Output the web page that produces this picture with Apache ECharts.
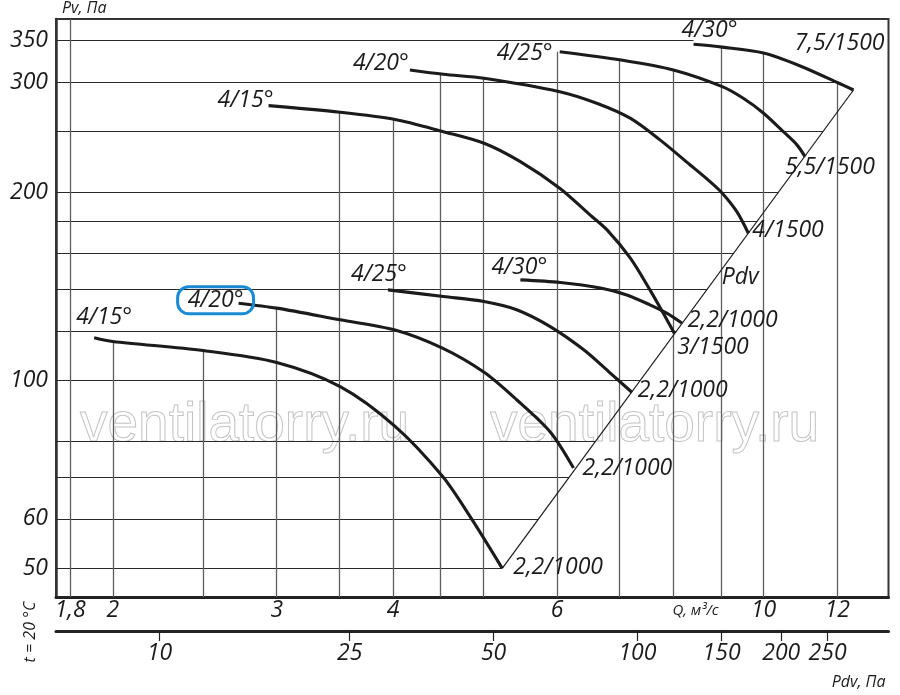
<!DOCTYPE html>
<html><head><meta charset="utf-8">
<script src="https://cdn.jsdelivr.net/npm/echarts@6/dist/echarts.min.js"></script>
<style>html,body{margin:0;padding:0;background:#fff}#c{width:900px;height:695px}</style>
</head><body><div id="c"></div>
<script>
// ---------- data ----------
const qRange = [1.738, 13.62];          // Q, m3/s (log axis extent)
const pvRange = [45.0, 378.8];          // Pv, Pa (log axis extent)
const pdvRange = [6.07, 335.3];         // Pdv, Pa (log axis extent)
const qTicks = [1.8, 2, 3, 4, 6, 10, 12];
const qTickLabels = ['1,8', '2', '3', '4', '6', '10', '12'];
const pvTicks = [50, 60, 100, 200, 300, 350];
const pdvTicks = [10, 25, 50, 100, 150, 200, 250];

// horizontal grid lines: [Pv, Q where the line stops]
const hGridLines = [[50, 5.23], [60, 5.73], [70, 6.18], [80, 6.60], [100, 7.37], [120, 8.06],
  [140, 8.70], [160, 9.29], [180, 9.84], [200, 10.37], [250, 11.58], [300, 12.05], [350, 8.41]];
// vertical grid lines: [Q, Pv where the line stops]
const vGridLines = [[1.8, 378.8], [2, 115.4], [2.5, 111.6], [3, 130.5], [3.5, 268.7], [4, 261.8],
  [4.5, 309.0], [5, 304.5], [6, 335.8], [7, 325.6], [8, 313.9], [9, 341.5], [10, 334.2], [12, 298.9]];

// 1000 rpm curves
const q1000_15 = [1.91, 2.00, 2.50, 3.00, 3.51, 4.02, 4.52, 4.84, 5.24];
const pv1000_15 = [117, 115.4, 111.6, 106.8, 97.7, 84.4, 70.2, 60.5, 50.0];
const q1000_20 = [2.73, 3.00, 3.51, 4.02, 4.52, 5.01, 5.43, 5.90, 6.25];
const pv1000_20 = [132.9, 130.5, 125.0, 120.4, 112.6, 103.0, 93.1, 82.7, 72.4];
const q1000_25 = [3.95, 4.53, 5.01, 5.43, 5.90, 6.41, 6.84, 7.22];
const pv1000_25 = [139.6, 136.2, 133.7, 129.7, 121.9, 111.9, 102.8, 95.7];
const q1000_30 = [5.48, 6.05, 6.68, 7.13, 7.55, 7.87, 8.17];
const pv1000_30 = [144.8, 143.4, 140.5, 137.0, 132.1, 128.1, 123.5];
// 1500 rpm curves
const q1500_15 = [2.94, 3.51, 4.01, 4.53, 5.01, 5.48, 6.04, 6.51, 6.79, 7.19, 7.55, 7.81, 8.02];
const pv1500_15 = [275.3, 268.7, 261.8, 250.1, 239.6, 223.9, 203.0, 184.0, 174.1, 157.0, 139.6, 127.8, 119.0];
const q1500_20 = [4.17, 4.53, 5.01, 6.04, 6.62, 7.19, 7.74, 8.34, 8.76, 9.03, 9.36, 9.63];
const pv1500_20 = [313.9, 309.0, 304.5, 289.8, 277.7, 262.8, 242.6, 221.2, 208.0, 199.3, 186.2, 172.0];
const q1500_25 = [6.04, 7.03, 8.00, 9.03, 9.51, 10.0, 10.5, 10.86, 11.08];
const pv1500_25 = [335.8, 325.6, 313.9, 295.2, 282.8, 267.7, 250.1, 238.2, 228.1];
const q1500_30 = [8.41, 9.03, 10.0, 10.95, 12.05, 12.49];
const pv1500_30 = [345.1, 341.5, 334.2, 318.6, 298.9, 291.6];

const startLabels = ['4/15°', '4/20°', '4/25°', '4/30°', '4/15°', '4/20°', '4/25°', '4/30°'];
const endLabels = ['2,2/1000', '2,2/1000', '2,2/1000', '2,2/1000', '3/1500', '4/1500', '5,5/1500', '7,5/1500'];

// dynamic-pressure line
const pdvLineQ = [5.24, 12.49];
const pdvLinePv = [50.0, 291.6];
const pdvLabelAt = [9.44, 146];

// ---------- presentation ----------
const FONT = "'Open Sans', 'DejaVu Sans', sans-serif";
const INK = '#1b1b1b';
const curves = [
  [q1000_15, pv1000_15], [q1000_20, pv1000_20], [q1000_25, pv1000_25], [q1000_30, pv1000_30],
  [q1500_15, pv1500_15], [q1500_20, pv1500_20], [q1500_25, pv1500_25], [q1500_30, pv1500_30]
];
// label placement offsets (px) relative to the curve ends
const startPlace = [
  {pos: [10, -20], align: 'center'}, {pos: [-23, -3], align: 'center', boxed: true},
  {pos: [-9, -15], align: 'center'}, {pos: [-1, -12], align: 'center'},
  {pos: [-23, -5], align: 'center'}, {pos: [-29, -7], align: 'center'},
  {pos: [-35, 2], align: 'center'}, {pos: [16, -14], align: 'center'}
];
const endPlace = [
  {pos: [11, -1], align: 'left'}, {pos: [9, 0], align: 'left'},
  {pos: [6, -2], align: 'left'}, {pos: [6, -3], align: 'left'},
  {pos: [3, 14], align: 'left'}, {pos: [4, -3], align: 'left'},
  {pos: [-20, 11], align: 'left'}, {pos: [31, -47], align: 'right'}
];

const labelBase = {fontFamily: FONT, fontStyle: 'italic', fontSize: 23, color: INK, verticalAlign: 'middle'};

const curveSeries = curves.map(([qs, ps], k) => {
  const n = qs.length;
  const data = qs.map((q, i) => {
    const item = {value: [q, ps[i]]};
    if (i === 0) {
      const sp = startPlace[k];
      item.label = Object.assign({show: true, formatter: startLabels[k], position: sp.pos, align: sp.align}, labelBase,
        sp.boxed ? {borderColor: '#1a8ad4', borderWidth: 3, borderRadius: 11, padding: [2, 10, 2, 10], lineHeight: 23} : {});
    } else if (i === n - 1) {
      const ep = endPlace[k];
      item.label = Object.assign({show: true, formatter: endLabels[k], position: ep.pos, align: ep.align}, labelBase);
    }
    return item;
  });
  return {
    type: 'line', data, smooth: 0.3,
    symbol: 'circle', symbolSize: 0.01, showSymbol: true, showAllSymbol: true,
    itemStyle: {color: INK}, lineStyle: {color: INK, width: 3.1},
    label: {show: false}, labelLayout: {hideOverlap: false}, emphasis: {disabled: true}, silent: true, z: 5
  };
});

const option = {
  animation: false,
  backgroundColor: '#fff',
  textStyle: {fontFamily: FONT},
  grid: {left: 56, right: 11.5, top: 19, bottom: 98, show: true, borderColor: '#333', borderWidth: 2, containLabel: false},
  xAxis: [{
    type: 'log', logBase: 10, min: qRange[0], max: qRange[1], position: 'bottom',
    axisLine: {show: true, lineStyle: {color: '#222', width: 3}},
    axisTick: {show: false}, splitLine: {show: false}, minorSplitLine: {show: false},
    axisLabel: {customValues: qTicks, margin: 2, fontSize: 23, fontStyle: 'italic', color: INK, fontFamily: FONT,
      formatter: v => { const i = qTicks.findIndex(t => Math.abs(t - v) < 1e-6); return i >= 0 ? qTickLabels[i] : ''; }},
    name: 'Q, м³/с', nameLocation: 'end', nameGap: -170,
    nameTextStyle: {fontSize: 15, fontStyle: 'italic', color: INK, fontFamily: FONT, align: 'right', verticalAlign: 'top', padding: [6, 0, 0, 0]}
  }, {
    type: 'log', logBase: 10, min: pdvRange[0], max: pdvRange[1], position: 'bottom', offset: 34,
    axisLine: {show: true, lineStyle: {color: '#222', width: 3}},
    axisTick: {show: true, customValues: pdvTicks, length: 10, inside: false, lineStyle: {color: '#222', width: 1.2}},
    splitLine: {show: false},
    axisLabel: {customValues: pdvTicks, margin: 11, fontSize: 23, fontStyle: 'italic', color: INK, fontFamily: FONT},
    name: 'Pdv, Па', nameLocation: 'end', nameGap: -3,
    nameTextStyle: {fontSize: 16, fontStyle: 'italic', color: INK, fontFamily: FONT, align: 'right', verticalAlign: 'top', padding: [43, 0, 0, 0]}
  }],
  yAxis: [{
    type: 'log', logBase: 10, min: pvRange[0], max: pvRange[1],
    axisLine: {show: true, lineStyle: {color: '#333', width: 2.5}},
    axisTick: {show: false}, splitLine: {show: false},
    axisLabel: {customValues: pvTicks, margin: 8, fontSize: 23, fontStyle: 'italic', color: INK, fontFamily: FONT},
    name: 'Pv, Па', nameLocation: 'end', nameGap: 3,
    nameTextStyle: {fontSize: 16, fontStyle: 'italic', color: INK, fontFamily: FONT, align: 'left', verticalAlign: 'bottom', padding: [0, 0, 0, 6]}
  }],
  graphic: [
    {type: 'text', x: 80, y: 426, z: 1, silent: true,
      style: {text: 'ventilatorry.ru', font: "55px 'Liberation Sans', Arial, sans-serif", fill: 'rgba(255,255,255,0)', stroke: '#c4c4c4', lineWidth: 1, align: 'left', verticalAlign: 'middle'}},
    {type: 'text', x: 490, y: 426, z: 1, silent: true,
      style: {text: 'ventilatorry.ru', font: "55px 'Liberation Sans', Arial, sans-serif", fill: 'rgba(255,255,255,0)', stroke: '#c4c4c4', lineWidth: 1, align: 'left', verticalAlign: 'middle'}},
    {type: 'text', x: 30, y: 632, rotation: Math.PI / 2, silent: true,
      style: {text: 't = 20 °C', font: "italic 16px 'Open Sans', sans-serif", fill: INK, align: 'center', verticalAlign: 'middle'}}
  ],
  series: [
    {type: 'lines', coordinateSystem: 'cartesian2d', xAxisIndex: 0, yAxisIndex: 0, silent: true, z: 2,
      lineStyle: {color: '#2a2a2a', width: 1.2, opacity: 1, curveness: 0},
      data: hGridLines.map(([p, q]) => ({coords: [[qRange[0], p], [q, p]]}))},
    {type: 'lines', coordinateSystem: 'cartesian2d', xAxisIndex: 0, yAxisIndex: 0, silent: true, z: 2,
      lineStyle: {color: '#5e5e5e', width: 1.3, opacity: 1, curveness: 0},
      data: vGridLines.map(([q, p]) => ({coords: [[q, pvRange[0]], [q, p]]}))},
    {type: 'line', data: pdvLineQ.map((q, i) => [q, pdvLinePv[i]]), symbol: 'none',
      lineStyle: {color: INK, width: 1.2}, silent: true, z: 4,
      markPoint: {symbol: 'circle', symbolSize: 0, silent: true,
        data: [{coord: pdvLabelAt, label: Object.assign({show: true, formatter: 'Pdv', position: 'inside'}, labelBase, {fontSize: 23})}]}},
    ...curveSeries
  ]
};

const chart = echarts.init(document.getElementById('c'), null, {renderer: 'canvas'});
chart.setOption(option);
</script>
</body></html>
